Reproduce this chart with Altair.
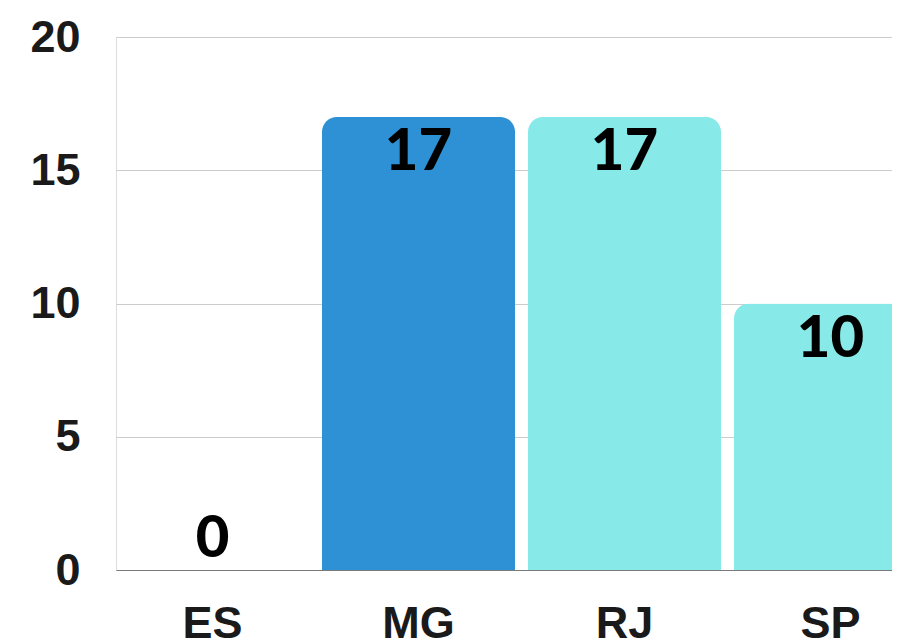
import altair as alt
import pandas as pd

states = ["ES", "MG", "RJ", "SP"]
values = [0, 17, 17, 10]
bar_colors = ["#2E91D5", "#2E91D5", "#87E9E8", "#87E9E8"]
y_ticks = [0, 5, 10, 15, 20]

df = pd.DataFrame({"state": states, "value": values})

x_enc = alt.X(
    "state:N",
    sort=states,
    scale=alt.Scale(range=[0, 811], paddingInner=0.063, paddingOuter=0),
    axis=alt.Axis(
        title=None, labelAngle=0, labelFont="Liberation Sans", labelFontWeight="bold",
        labelFontSize=45, labelColor="#1a1a1a", labelPadding=31, ticks=False,
        domain=True, domainColor="#7a7a7a", domainWidth=1, grid=False,
    ),
)
y_scale = alt.Scale(domain=[0, 20], nice=False)

bars = alt.Chart(df).mark_bar(
    cornerRadiusTopLeft=15, cornerRadiusTopRight=15
).encode(
    x=x_enc,
    y=alt.Y(
        "value:Q",
        scale=y_scale,
        axis=alt.Axis(
            title=None, values=y_ticks, labelFont="Liberation Sans", labelFontWeight="bold",
            labelFontSize=45, labelColor="#1a1a1a", labelPadding=36, ticks=False,
            domain=False, grid=True, gridColor="#cccccc", gridWidth=1,
        ),
    ),
    color=alt.Color("state:N", scale=alt.Scale(domain=states, range=bar_colors), legend=None),
)

label_style = dict(font="Lato", fontSize=58, fontWeight=900, color="#000000", align="center")

labels_pos = alt.Chart(df).transform_filter("datum.value > 0").mark_text(
    baseline="alphabetic", dy=53, **label_style
).encode(
    x=alt.X("state:N", sort=states),
    y=alt.Y("value:Q", scale=y_scale),
    text="value:Q",
)

labels_zero = alt.Chart(df).transform_filter("datum.value == 0").mark_text(
    baseline="alphabetic", dy=-13, **label_style
).encode(
    x=alt.X("state:N", sort=states),
    y=alt.Y("value:Q", scale=y_scale),
    text="value:Q",
)

chart = alt.layer(bars, labels_pos, labels_zero).properties(
    width=776,
    height=533,
    autosize=alt.AutoSizeParams(type="none"),
    padding={"left": 108, "top": 29, "right": 0, "bottom": 69},
).configure_view(stroke=None).configure(background="white")

chart.save("out.html", embed_options={"renderer": "svg", "actions": False})
